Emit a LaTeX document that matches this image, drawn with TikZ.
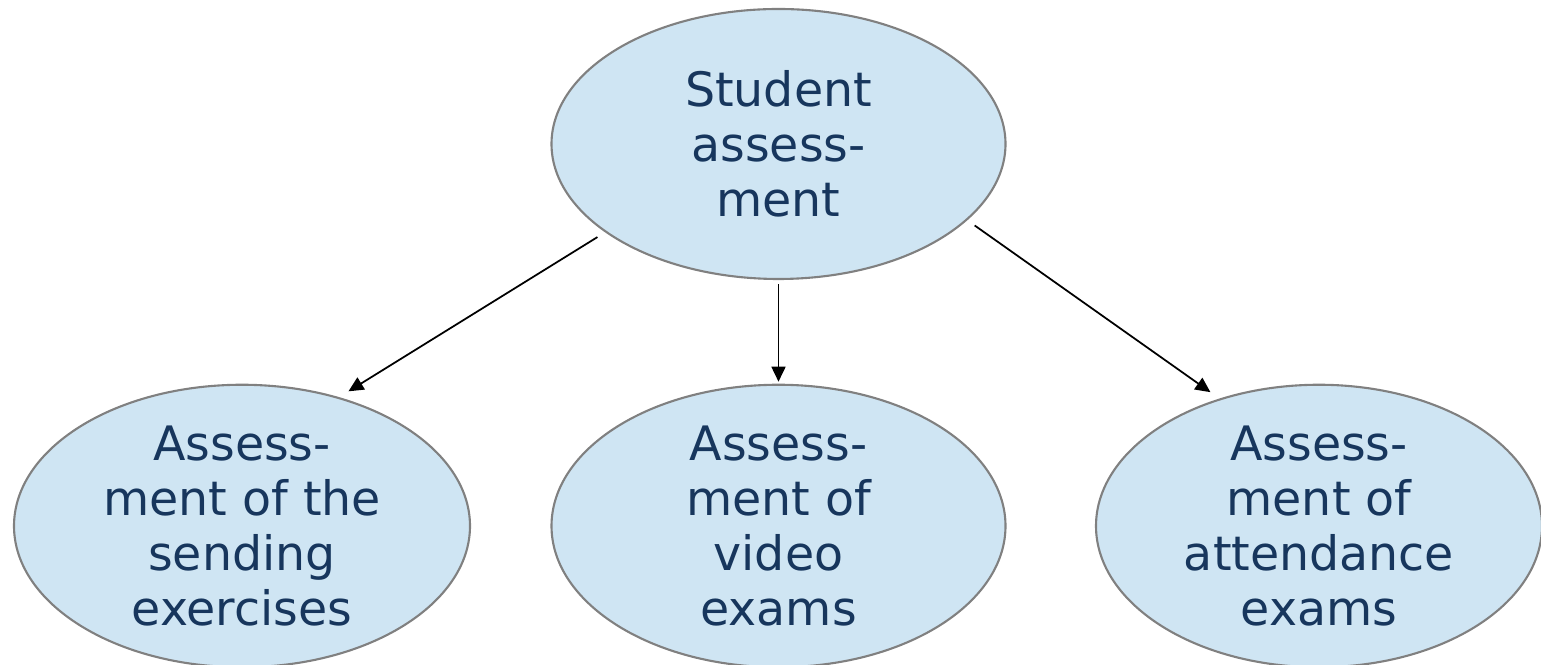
\documentclass[tikz,border=0pt]{standalone}
\usepackage{fontspec}
\setmainfont{DejaVu Sans}
\usetikzlibrary{arrows.meta,shapes.geometric}
\definecolor{bubble}{HTML}{CFE5F3}
\definecolor{rim}{HTML}{808080}
\definecolor{ink}{HTML}{17365D}

\begin{document}
\begin{tikzpicture}[color=black,
  bubble/.style={ellipse,draw=rim,line width=0.6pt,fill=bubble,text=ink,
    align=center,inner sep=0pt,minimum width=4.54cm,minimum height=2.70cm,
    font=\fontsize{13.5}{15.6}\selectfont},
  link/.style={-{Triangle[length=0.15cm,width=0.14cm]},line width=0.5pt,
    shorten <=0.09cm,shorten >=0.11cm}]
\def\rowy{-5.26}

\useasboundingbox (0,0) rectangle (15.41,-6.65);

\node[bubble] (top) at (7.785,-1.44) {Student\\assess-\\ment};

\node[bubble,minimum width=4.56cm,minimum height=2.68cm] (send) at (2.42,\rowy)
  {Assess-\\ment of the\\sending\\exercises};
\node[bubble,minimum width=4.54cm,minimum height=2.66cm] (video) at (7.785,\rowy)
  {Assess-\\ment of\\video\\exams};
\node[bubble,minimum width=4.46cm,minimum height=2.68cm] (attend) at (13.19,\rowy)
  {Assess-\\ment of\\attendance\\exams};

\draw[link] (top.207) -- (send.53);
\draw[link,shorten <=0.04cm,shorten >=0.02cm] (top.south) -- (video.north);
\draw[link] (top.338) -- (attend.128);

\end{tikzpicture}
\end{document}
